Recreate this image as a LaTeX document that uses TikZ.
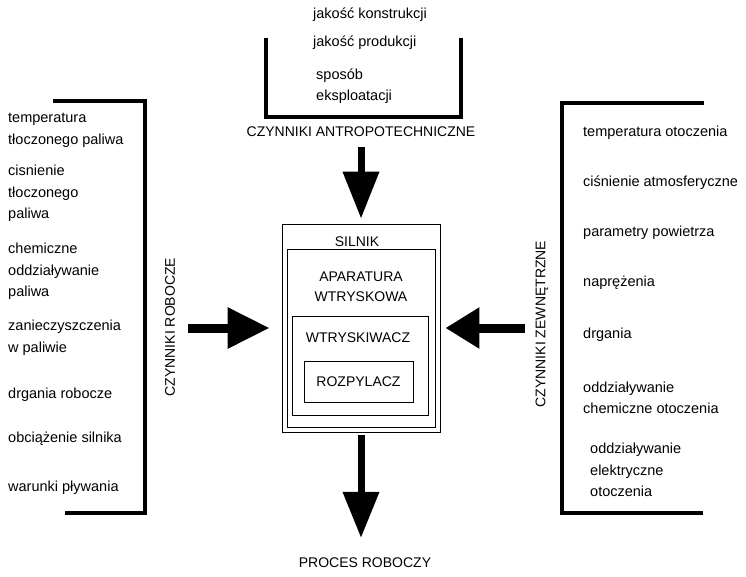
\documentclass[tikz,border=0pt]{standalone}
\usepackage{fontspec}
\setmainfont{Liberation Sans}
\usepackage{tikz}
\usetikzlibrary{arrows.meta,positioning,calc}

\begin{document}
\begin{tikzpicture}[
    x=1pt,y=-1pt,
    item/.style={inner sep=0pt,anchor=west,align=left,font=\fontsize{14.5}{21.5}\selectfont},
    capt/.style={inner sep=0pt,align=center,font=\fontsize{14}{20}\selectfont},
    box/.style={draw,line width=0.8pt,inner sep=0pt},
    bracket/.style={line width=3.5pt},
    bigarrow/.style={line width=#1}
]
\useasboundingbox (0,0) rectangle (746,576);

\node[box,minimum width=158pt,minimum height=208pt] (silnik) at (361,328) {};
\node[box,minimum width=148pt,minimum height=178pt] (aparatura) at (361,338) {};
\node[box,minimum width=136pt,minimum height=99pt] (wtrysk) at (360,365.5) {};
\node[box,minimum width=109pt,minimum height=41pt,font=\fontsize{14}{20}\selectfont] (rozpyl) at (358.5,381.5) {ROZPYLACZ};
\node[capt] (silniklbl) at (357,242) {SILNIK};
\node[capt] (aparlbl) at (361,287) {APARATURA\\WTRYSKOWA};
\node[capt] (wtrysklbl) at (358,338) {WTRYSKIWACZ};

\node[item] (konstr) at (313,15) {jakość konstrukcji};
\node[item] (produk) at (313,43) {jakość produkcji};
\node[item] (sposob) at (316,86) {sposób\\eksploatacji};
\draw[bracket] (266,38) -- (266,117) -- (461,117) -- (461,38);
\node[capt] (antro) at (361,132) {CZYNNIKI ANTROPOTECHNICZNE};

\node[item] (tempp) at (8,130.5) {temperatura\\tłoczonego paliwa};
\node[item] (cisn) at (8,193.5) {cisnienie\\tłoczonego\\paliwa};
\node[item] (chem) at (8,271.5) {chemiczne\\oddziaływanie\\paliwa};
\node[item] (zanie) at (8,337.5) {zanieczyszczenia\\w paliwie};
\node[item] (drgr) at (8,395) {drgania robocze};
\node[item] (obci) at (8,439) {obciążenie silnika};
\node[item] (warun) at (8,488) {warunki pływania};
\draw[bracket] (53,101) -- (145,101) -- (145,513) -- (65,513);
\node[capt,rotate=90] (robocze) at (170,327) {CZYNNIKI ROBOCZE};

\node[item] (tempo) at (583,133) {temperatura otoczenia};
\node[item] (cisa) at (583,183) {ciśnienie atmosferyczne};
\node[item] (param) at (583,233) {parametry powietrza};
\node[item] (napr) at (583,283) {naprężenia};
\node[item] (drg) at (583,335) {drgania};
\node[item] (oddch) at (583,398) {oddziaływanie\\chemiczne otoczenia};
\node[item] (oddel) at (590,470) {oddziaływanie\\elektryczne\\otoczenia};
\draw[bracket] (704,103) -- (562,103) -- (562,513) -- (703,513);
\node[capt,rotate=90] (zewn) at (542,324) {CZYNNIKI ZEWNĘTRZNE};

\node[capt] (proces) at (365,563) {PROCES ROBOCZY};

\coordinate (lin) at (188,328);
\coordinate (rin) at (525,328);
\draw[line width=7pt,-{Triangle[width=35pt,length=47pt]},shorten <=10pt,shorten >=5pt] (antro.south) -- (silnik.north);
\draw[line width=9pt,-{Triangle[width=39pt,length=42pt]},shorten >=12pt] (lin) -- (silnik.west);
\draw[line width=9pt,-{Triangle[width=39pt,length=34pt]},shorten >=5pt] (rin) -- (silnik.east);
\draw[line width=7pt,-{Triangle[width=35pt,length=46pt]},shorten <=3pt,shorten >=20pt] (silnik.south) -- (silnik.south |- proces.north);
\end{tikzpicture}
\end{document}
